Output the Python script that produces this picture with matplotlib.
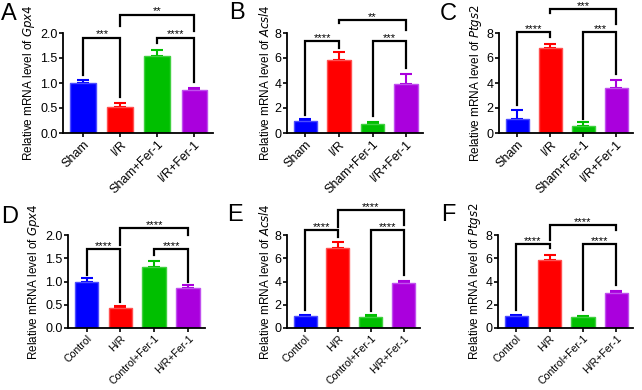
import matplotlib.pyplot as plt

plt.rcParams['font.family'] = ['Liberation Sans', 'DejaVu Sans']

colors = ['#0000ff', '#ff0000', '#00bf00', '#aa00dd']
edges = ['#4d4dff', '#ff5050', '#40d040', '#c050ee']

labels_ir = ['Sham', 'I/R', 'Sham+Fer-1', 'I/R+Fer-1']
labels_hr = ['Control', 'H/R', 'Control+Fer-1', 'H/R+Fer-1']

# means and upper SEM
a_mean = [1.0, 0.52, 1.54, 0.86]
a_err = [0.06, 0.09, 0.13, 0.05]
b_mean = [0.95, 5.87, 0.76, 3.95]
b_err = [0.15, 0.58, 0.12, 0.75]
c_mean = [1.12, 6.8, 0.57, 3.6]
c_err = [0.7, 0.35, 0.28, 0.65]
d_mean = [0.99, 0.42, 1.32, 0.85]
d_err = [0.09, 0.06, 0.13, 0.07]
e_mean = [1.02, 6.9, 0.92, 3.88]
e_err = [0.12, 0.47, 0.18, 0.15]
f_mean = [1.02, 5.84, 0.95, 3.02]
f_err = [0.1, 0.42, 0.1, 0.17]

# brackets: (i, j, top, left leg end, right leg end, stars)
a_sig = [(0, 1, 1.91, 1.16, 0.72, '***'), (2, 3, 1.91, 1.81, 1.03, '****'),
         (1, 3, 2.37, 2.15, 2.05, '**')]
b_sig = [(0, 1, 7.33, 1.47, 6.8, '****'), (2, 3, 7.33, 1.33, 5.2, '***'),
         (1, 3, 9.07, 8.8, 8.27, '**')]
c_sig = [(0, 1, 8.08, 2.23, 7.68, '****'), (2, 3, 8.08, 1.15, 4.72, '***'),
         (1, 3, 9.88, 9.6, 8.75, '***')]
d_sig = [(0, 1, 1.69, 1.14, 0.56, '****'), (2, 3, 1.69, 1.57, 0.98, '****'),
         (1, 3, 2.14, 1.78, 1.99, '****')]
e_sig = [(0, 1, 8.43, 1.53, 7.86, '****'), (2, 3, 8.43, 1.44, 4.55, '****'),
         (1, 3, 10.16, 8.7, 8.86, '****')]
f_sig = [(0, 1, 7.19, 1.53, 6.85, '****'), (2, 3, 7.19, 1.53, 3.68, '****'),
         (1, 3, 8.86, 7.57, 8.43, '****')]

W, H = 642, 390
fig = plt.figure(figsize=(W / 100, H / 100), dpi=100)


def px_axes(x0, x1, ytop, ybot):
    return fig.add_axes([x0 / W, (H - ybot) / H, (x1 - x0) / W, (ybot - ytop) / H])


panels = [
    ('A', (63, 213, 33, 133), a_mean, a_err, a_sig, labels_ir, 'Gpx4', 2.0, [0, 0.5, 1.0, 1.5, 2.0], (1, 20), 9),
    ('B', (287, 423, 33, 133), b_mean, b_err, b_sig, labels_ir, 'Acsl4', 8, [0, 2, 4, 6, 8], (229, 19), 9),
    ('C', (499, 633, 33, 133), c_mean, c_err, c_sig, labels_ir, 'Ptgs2', 8, [0, 2, 4, 6, 8], (440, 20), 9),
    ('D', (68, 205, 235, 328), d_mean, d_err, d_sig, labels_hr, 'Gpx4', 2.0, [0, 0.5, 1.0, 1.5, 2.0], (1, 223), 7.6),
    ('E', (287, 420, 235, 328), e_mean, e_err, e_sig, labels_hr, 'Acsl4', 8, [0, 2, 4, 6, 8], (227, 221), 7.6),
    ('F', (498, 633, 235, 328), f_mean, f_err, f_sig, labels_hr, 'Ptgs2', 8, [0, 2, 4, 6, 8], (441, 221), 7.6),
]

for letter, box, mean, err, sig, labels, gene, ymax, yticks, lpos, xfs in panels:
    ax = px_axes(*box)
    x = range(len(mean))
    ax.bar(x, mean, width=0.7, color=colors, edgecolor=edges, linewidth=1.0, zorder=2)
    for i in x:
        ax.errorbar(i, mean[i], yerr=[[0], [err[i]]], fmt='none', ecolor=colors[i],
                    elinewidth=1.5, capsize=4.5, capthick=1.5, zorder=1)
    for i, j, top, lend, rend, stars in sig:
        ax.plot([i, i, j, j], [lend, top, top, rend], color='black', lw=1.6,
                clip_on=False, solid_joinstyle='miter', zorder=3)
        ax.text((i + j) / 2, top, stars, ha='center', va='baseline',
                fontsize=8, clip_on=False)
    ax.set_xlim(-0.55, 3.5)
    ax.set_ylim(0, ymax)
    ax.set_yticks(yticks)
    if ymax == 2.0:
        ax.set_yticklabels(['%.1f' % t for t in yticks])
    ax.set_xticks(list(x))
    ax.set_xticklabels(labels, rotation=45, ha='right', rotation_mode='anchor', fontsize=xfs)
    ax.tick_params(axis='y', labelsize=9, width=1.2, length=3, pad=1)
    ax.tick_params(axis='x', width=1.2, length=3, pad=1)
    for s in ['top', 'right']:
        ax.spines[s].set_visible(False)
    for s in ['left', 'bottom']:
        ax.spines[s].set_linewidth(1.3)
    ax.set_ylabel('Relative mRNA level of $\\it{%s}$' % gene, fontsize=8.5, labelpad=2)
    fig.text(lpos[0] / W, 1 - lpos[1] / H, letter, fontsize=17, ha='left', va='baseline')

fig.savefig('out.png', dpi=100)
